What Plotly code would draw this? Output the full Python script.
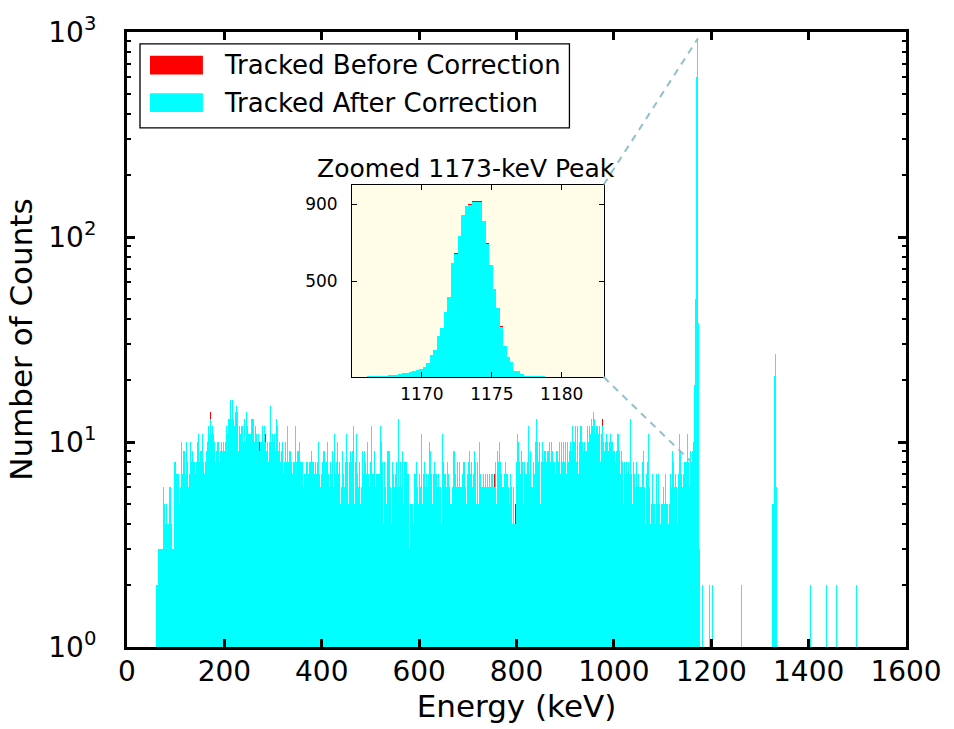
import plotly.graph_objects as go
import math

# ---------------- data ----------------
# Main panel: one bin per 2.05 keV, first bin starting at 59.5 keV
bg_start_kev = 59.5
bg_bin_kev = 2.05
after_counts = [
    2, 2, 3, 3, 3, 3, 3,
    6, 5, 4, 5, 4, 4, 6, 6, 4, 3,
    3, 8, 8, 7, 7, 7, 5, 6, 10, 7,
    9, 9, 7, 10, 8, 6, 7, 10, 8, 9,
    8, 8, 7, 8, 10, 11, 8, 9, 9, 11,
    8, 7, 8, 9, 10, 12, 11, 13, 11, 12,
    11, 10, 8, 9, 10, 10, 8, 9, 10, 9,
    10, 9, 10, 12, 11, 13, 13, 16, 13, 16,
    13, 12, 14, 15, 14, 9, 12, 11, 12, 12,
    10, 13, 10, 14, 12, 11, 11, 11, 13, 13,
    13, 10, 12, 11, 10, 11, 9, 10, 10, 12,
    10, 12, 10, 9, 10, 8, 10, 15, 10, 11,
    10, 11, 9, 13, 12, 9, 10, 8, 9, 10,
    7, 8,
    10, 8, 12, 8, 9, 9, 8, 7, 8, 8,
    12, 8, 9, 9, 10, 8, 8, 8, 6, 7,
    7, 8, 8, 7, 8, 8, 9, 8, 8, 7,
    8, 7, 8, 10, 7, 6, 7, 8, 9, 9,
    8, 8, 10, 7, 6, 8, 7, 9, 6, 11,
    7, 8, 10, 7, 8, 5, 6, 9, 7, 6,
    8, 11, 8, 5, 8, 9, 8, 9, 12, 5,
    8, 11, 7, 6, 8, 5, 6, 9, 7, 9,
    8, 7, 10, 7, 6, 8, 12, 7, 7, 9,
    6, 7, 7, 7, 7, 12, 10, 8, 4, 8,
    6, 5, 9, 9, 9, 6, 4, 8, 7, 6,
    7, 8, 6, 13, 6, 8, 6, 9, 5, 8,
    8, 8, 8, 7, 7, 3, 5, 5, 5, 4,
    7, 7, 8, 6, 5, 7, 6, 11, 5, 7,
    8, 6, 7, 6, 7, 10, 9, 7, 5, 7,
    8, 7, 7, 6, 7, 6, 6, 4, 11, 8,
    7, 7, 6, 8, 7, 6, 5, 5, 6, 9,
    9, 7, 6, 8, 6, 8, 6, 6, 7, 8,
    8, 6, 5, 7, 8, 9, 7, 8, 6, 7,
    9, 8, 5, 8, 5, 10, 7, 6, 6, 7,
    6, 7, 6, 7, 6, 7, 6, 7, 7, 6,
    6, 8, 5, 9, 8, 10, 8, 7, 6, 6,
    7, 8, 7, 7, 6, 5, 7, 6, 4, 6,
    4, 4, 8, 11, 10, 8, 7, 9, 8, 5,
    8, 7, 7, 8, 12, 7, 9, 6, 6, 8,
    7, 10, 13, 10, 8, 10, 5, 8, 10, 8,
    9, 9, 8, 9, 9, 10, 8, 10, 9, 8,
    8, 7, 9, 9, 8, 10, 7, 10, 8, 10,
    8, 10, 7, 10, 8, 9, 10, 9, 12, 10,
    10, 12, 8, 12, 7, 10, 12, 12, 10, 9,
    10, 9, 9, 12, 10, 12, 11, 13, 12, 14,
    13, 11, 12, 12, 11, 12, 8, 11, 12, 10,
    9, 10, 11, 10, 9, 10, 11, 10, 10, 9,
    9, 8, 9, 11, 11, 9, 7, 9, 8, 5,
    8, 7, 8, 7, 8, 7, 13, 7, 5, 8,
    7, 6, 8, 6, 7, 6, 6, 6, 8, 9,
    6, 4, 7, 8, 11, 6, 4, 5, 7, 5,
    5, 4, 7, 5, 7, 5, 4, 5, 5, 6,
    5, 7, 5, 5, 4, 5, 7, 6, 9, 8,
    6, 7, 6, 4, 7, 11, 9, 7, 6, 7,
    8, 8, 8, 11, 8, 6, 9, 8, 9, 10,
    19, 50, 606, 934, 38, 3,
]
# bins where the "before correction" spectrum is higher
before_fix_bin = [54, 103, 109, 339, 360, 447]
before_fix_count = [14, 10, 11, 7, 5, 13]

# isolated bins above the 1173 keV peak and the 1332 keV peak (bin centres, keV)
sparse_kev = [1182.6, 1196.9, 1203.1, 1262.6, 1326.2, 1328.25, 1330.3, 1332.35,
              1334.4, 1404.1, 1436.9, 1457.4, 1498.5]
sparse_counts = [2, 2, 2, 2, 5, 5, 21, 27, 6, 2, 2, 2, 2]

# Inset: 0.25 keV bins starting at 1165.05 keV
inset_start_kev = 1165.05
inset_bin_kev = 0.25
inset_after = [
    2, 2, 2, 2, 3, 3, 3, 3, 8, 8,
    14, 14, 14, 19, 21, 26, 31, 36, 40, 45,
    55, 74, 117, 143, 215, 256, 342, 420, 597, 645,
    735, 845, 895, 898, 916, 916, 916, 814, 697, 585,
    460, 361, 265, 163, 107, 81, 34, 34, 17, 9,
    9, 5, 5, 5, 3, 2, 2, 2, 2, 2,
    1, 1, 1, 1, 0, 0, 0, 0, 0, 0, 0, 0,
]
inset_before_fix_bin = [29, 33, 34, 35, 36, 38, 42]
inset_before_fix_count = [649, 902, 921, 921, 921, 700, 268]

x_tick_vals = [0, 200, 400, 600, 800, 1000, 1200, 1400, 1600]
y_tick_vals = [1, 10, 100, 1000]
y_tick_text = ["10<sup>0</sup>", "10<sup>1</sup>", "10<sup>2</sup>", "10<sup>3</sup>"]
inset_x_ticks = [1170, 1175, 1180]
inset_y_ticks = [500, 900]

legend_labels = ["Tracked Before Correction", "Tracked After Correction"]

# connector end points on the main spectrum (keV, counts)
conn_top = (1172.5, 930)
conn_bottom = (1159, 8)

# ---------------- styling / layout constants ----------------
FONT = "DejaVu Sans"
CYAN = "#00ffff"
RED = "#ff0000"
W, H = 954, 729
ML, MR, MT, MB = 127, 47, 28, 79
PW, PH = W - ML - MR, H - MT - MB
X_RANGE = [0, 1600]
Y_DECADES = 3


def px_x(px):
    return (px - ML) / PW


def px_y(py):
    return (H - MB - py) / PH


def centres(start, width, n):
    return [start + (i + 0.5) * width for i in range(n)]


before_counts = list(after_counts)
for i, c in zip(before_fix_bin, before_fix_count):
    before_counts[i] = c
inset_before = list(inset_after)
for i, c in zip(inset_before_fix_bin, inset_before_fix_count):
    inset_before[i] = c

main_x = centres(bg_start_kev, bg_bin_kev, len(after_counts)) + sparse_kev
main_w = [bg_bin_kev] * len(main_x)
main_after = after_counts + sparse_counts
main_before = before_counts + sparse_counts

inset_x = centres(inset_start_kev, inset_bin_kev, len(inset_after))
inset_w = [inset_bin_kev] * len(inset_x)

fig = go.Figure()
# alpha just below 1 makes plotly snap the 1-px bars to whole pixels
fig.add_bar(x=main_x, y=main_before, width=main_w, xaxis="x", yaxis="y",
            marker=dict(color="rgba(255,0,0,0.999)", line=dict(width=0)),
            showlegend=False, name=legend_labels[0])
fig.add_bar(x=main_x, y=main_after, width=main_w, xaxis="x", yaxis="y",
            marker=dict(color="rgba(0,255,255,0.999)", line=dict(width=0)),
            showlegend=False, name=legend_labels[1])
fig.add_bar(x=inset_x, y=inset_before, width=inset_w, xaxis="x2", yaxis="y2",
            marker=dict(color=RED, line=dict(width=0)), showlegend=False)
fig.add_bar(x=inset_x, y=inset_after, width=inset_w, xaxis="x2", yaxis="y2",
            marker=dict(color=CYAN, line=dict(width=0)), showlegend=False)

# inset placement (paper coords)
ix0, ix1 = px_x(352.3), px_x(604.3)
iy0, iy1 = px_y(377.0), px_y(182.3)

axis_common = dict(showline=True, linecolor="black", mirror="ticks", ticks="inside",
                   showgrid=False, zeroline=False, tickcolor="black")

fig.update_layout(
    width=W, height=H,
    margin=dict(l=ML, r=MR, t=MT, b=MB, pad=0),
    paper_bgcolor="white",
    plot_bgcolor="rgba(0,0,0,0)",
    barmode="overlay", bargap=0, bargroupgap=0,
    font=dict(family=FONT, color="black"),
    xaxis=dict(range=X_RANGE, tickmode="array", tickvals=x_tick_vals,
               ticklen=8, tickwidth=3, linewidth=3,
               tickfont=dict(size=28), ticklabelstandoff=-3,
               title=dict(text="Energy (keV)", font=dict(size=31), standoff=8),
               **axis_common),
    yaxis=dict(type="log", range=[0, Y_DECADES], tickmode="array",
               tickvals=y_tick_vals, ticktext=y_tick_text,
               ticklen=8, tickwidth=3, linewidth=3,
               tickfont=dict(size=28), ticklabelstandoff=22,
               minor=dict(tickmode="array",
                          tickvals=[k * 10 ** d for d in range(Y_DECADES) for k in range(2, 10)],
                          ticks="inside", ticklen=4, tickwidth=1.5, tickcolor="black"),
               title=dict(text="Number of Counts", font=dict(size=31), standoff=7),
               **axis_common),
    xaxis2=dict(domain=[ix0, ix1], anchor="y2", range=[1165, 1183],
                tickmode="array", tickvals=inset_x_ticks, ticklen=5, tickwidth=1.2,
                linewidth=1, tickfont=dict(size=17), ticklabelstandoff=2,
                **axis_common),
    yaxis2=dict(domain=[iy0, iy1], anchor="x2", range=[0, 1003],
                tickmode="array", tickvals=inset_y_ticks, ticklen=5, tickwidth=1.2,
                linewidth=1, tickfont=dict(size=17), ticklabelstandoff=10,
                **axis_common),
)

shapes = []
# inset background
shapes.append(dict(type="rect", xref="x2 domain", yref="y2 domain", x0=0, x1=1, y0=0, y1=1,
                   fillcolor="#fffde8", line=dict(width=0), layer="below"))


def data_to_paper(e, c):
    return (e - X_RANGE[0]) / (X_RANGE[1] - X_RANGE[0]), math.log10(c) / Y_DECADES


tx, ty = data_to_paper(*conn_top)
bx, by = data_to_paper(*conn_bottom)
conn_style = dict(color="#92bfcc", width=2, dash="7px,6px")
shapes.append(dict(type="line", xref="paper", yref="paper", x0=ix1, y0=iy1, x1=tx, y1=ty,
                   line=conn_style))
shapes.append(dict(type="line", xref="paper", yref="paper", x0=ix1, y0=iy0, x1=bx, y1=by,
                   line=conn_style))

# hand-drawn legend (to get the wide matplotlib-style swatches)
shapes.append(dict(type="rect", xref="paper", yref="paper",
                   x0=px_x(140), x1=px_x(570), y0=px_y(125), y1=px_y(40),
                   fillcolor="white", line=dict(color="black", width=1.3)))
for (top, col) in [(52, RED), (90, CYAN)]:
    shapes.append(dict(type="rect", xref="paper", yref="paper",
                       x0=px_x(150), x1=px_x(203), y0=px_y(top + 19), y1=px_y(top),
                       fillcolor=col, line=dict(width=0)))
fig.update_layout(shapes=shapes)

annotations = []
for label, yc in zip(legend_labels, [61.5, 100]):
    annotations.append(dict(text=label, xref="paper", yref="paper", x=px_x(222), y=px_y(yc),
                            xanchor="left", yanchor="middle", showarrow=False,
                            font=dict(size=26, family=FONT, color="black")))
annotations.append(dict(text="Zoomed 1173-keV Peak", xref="paper", yref="paper",
                        x=px_x(466), y=iy1, xanchor="center", yanchor="bottom",
                        showarrow=False, font=dict(size=25, family=FONT, color="black")))
fig.update_layout(annotations=annotations)

fig.write_html("out.html")
